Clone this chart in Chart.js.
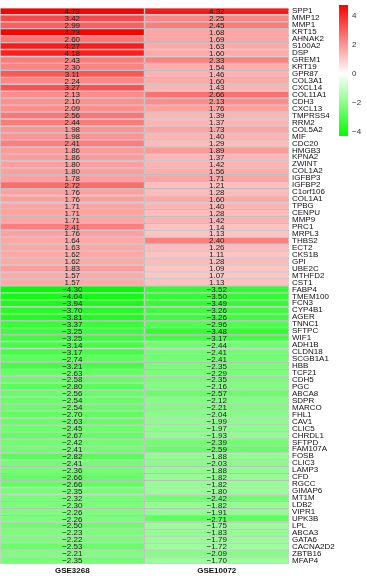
<!DOCTYPE html>
<html>
<head>
<meta charset="utf-8">
<script src="https://cdn.jsdelivr.net/npm/chart.js@4/dist/chart.umd.min.js"></script>
<style>
  html, body { margin: 0; padding: 0; background: #fff; }
  #wrap { width: 367px; height: 576px; }
</style>
</head>
<body>
<div id="wrap"><canvas id="heat"></canvas></div>
<script>
// gene names, top to bottom
const genes = [
  "SPP1","MMP12","MMP1","KRT15","AHNAK2","S100A2","DSP","GREM1","KRT19","GPR87",
  "COL3A1","CXCL14","COL11A1","CDH3","CXCL13","TMPRSS4","RRM2","COL5A2","MIF","CDC20",
  "HMGB3","KPNA2","ZWINT","COL1A2","IGFBP3","IGFBP2","C1orf106","COL1A1","TPBG","CENPU",
  "MMP9","PRC1","MRPL3","THBS2","ECT2","CKS1B","GPI","UBE2C","MTHFD2","CST1",
  "FABP4","TMEM100","FCN3","CYP4B1","AGER","TNNC1","SFTPC","WIF1","ADH1B","CLDN18",
  "SCGB1A1","HBB","TCF21","CDH5","PGC","ABCA8","SDPR","MARCO","FHL1","CAV1",
  "CLIC5","CHRDL1","SFTPD","FAM107A","FOSB","CLIC3","LAMP3","CFD","RGCC","GIMAP6",
  "MT1M","LDB2","VIPR1","UPK3B","LPL","ABCA3","GATA6","CACNA2D2","ZBTB16","MFAP4"
];
const datasetNames = ["GSE3268", "GSE10072"];
const gse3268 = [
  4.73,3.42,2.99,4.73,2.60,4.27,4.18,2.43,2.30,3.11,
  2.24,3.27,2.13,2.10,2.09,2.56,2.44,1.98,1.98,2.41,
  1.86,1.86,1.80,1.80,1.78,2.72,1.76,1.76,1.71,1.71,
  1.71,2.41,1.76,1.64,1.63,1.62,1.62,1.83,1.57,1.57,
  -4.30,-4.04,-3.94,-3.70,-3.81,-3.37,-3.25,-3.25,-3.14,-3.17,
  -2.74,-3.21,-2.63,-2.58,-2.80,-2.56,-2.54,-2.54,-2.70,-2.63,
  -2.45,-2.67,-2.42,-2.41,-2.82,-2.41,-2.36,-2.66,-2.66,-2.35,
  -2.32,-2.30,-2.26,-2.26,-2.50,-2.23,-2.22,-2.53,-2.21,-2.35
];
const gse10072 = [
  4.32,2.25,2.45,1.68,1.69,1.63,1.60,2.33,1.54,1.46,
  1.60,1.43,2.66,2.13,1.76,1.39,1.37,1.73,1.40,1.29,
  1.89,1.37,1.42,1.56,1.71,1.21,1.28,1.60,1.40,1.28,
  1.42,1.14,1.13,2.40,1.26,1.11,1.28,1.09,1.07,1.13,
  -3.52,-3.50,-3.49,-3.26,-3.26,-2.96,-3.48,-3.17,-2.44,-2.41,
  -2.41,-2.35,-2.29,-2.35,-2.16,-2.57,-2.12,-2.21,-2.04,-1.99,
  -1.97,-1.93,-2.39,-2.59,-1.88,-2.03,-1.88,-1.82,-1.82,-1.80,
  -2.42,-1.82,-1.91,-2.71,-1.75,-1.83,-1.79,-1.72,-2.09,-1.70
];
const legendTicks = [4, 2, 0, -2, -4];
const colorMax = 4.73;
const colorMin = -4.30;

// red - white - green
function heatColor(v) {
  let t;
  if (v >= 0) {
    t = Math.min(v / colorMax, 1);
    const c = Math.round(255 * (1 - t));
    return "rgb(255," + c + "," + c + ")";
  }
  t = Math.min(v / colorMin, 1);
  const c = Math.round(255 * (1 - t));
  return "rgb(" + c + ",255," + c + ")";
}

function fmt(v) {
  return v < 0 ? "\u2212" + Math.abs(v).toFixed(2) : v.toFixed(2);
}

const columns = [gse3268, gse10072];
const FONT = "'Liberation Sans', Arial, sans-serif";

// cell numbers, column names + color key
const cellText = {
  id: "cellText",
  afterDatasetsDraw(chart) {
    const ctx = chart.ctx;
    const x = chart.scales.x, y = chart.scales.y;
    ctx.save();
    ctx.font = "8px " + FONT;
    ctx.fillStyle = "#222";
    ctx.textAlign = "center";
    ctx.textBaseline = "middle";
    columns.forEach((col, ci) => {
      const cx = x.getPixelForValue(ci + 0.5);
      col.forEach((v, i) => {
        ctx.fillText(fmt(v), cx, y.getPixelForValue(i) + 0.5);
      });
    });
    ctx.font = "bold 8px " + FONT;
    ctx.fillStyle = "#111";
    datasetNames.forEach((n, ci) => {
      ctx.fillText(n, x.getPixelForValue(ci + 0.5), chart.chartArea.bottom + 7);
    });
    ctx.restore();
  },
  afterDraw(chart) {
    const ctx = chart.ctx;
    const barX = 339, barW = 9, top = 5, bottom = 136;
    const pxPer = (bottom - top) / (colorMax - colorMin);
    const g = ctx.createLinearGradient(0, top, 0, bottom);
    g.addColorStop(0, heatColor(colorMax));
    g.addColorStop(colorMax / (colorMax - colorMin), "#fff");
    g.addColorStop(1, heatColor(colorMin));
    ctx.save();
    ctx.fillStyle = g;
    ctx.fillRect(barX, top, barW, bottom - top);
    ctx.font = "8px " + FONT;
    ctx.fillStyle = "#333";
    ctx.textAlign = "left";
    ctx.textBaseline = "middle";
    legendTicks.forEach(t => {
      const ty = top + (colorMax - t) * pxPer;
      ctx.fillText(t < 0 ? "\u2212" + Math.abs(t) : String(t), barX + 13, ty);
    });
    ctx.restore();
  }
};

const ctx = document.getElementById("heat");
new Chart(ctx, {
  type: "bar",
  data: {
    labels: genes,
    datasets: columns.map((col, ci) => ({
      label: datasetNames[ci],
      data: col.map(() => [ci, ci + 1]),
      backgroundColor: col.map(heatColor),
      borderColor: "rgba(120,120,120,0.35)",
      borderWidth: 1,
      borderSkipped: false,
      barPercentage: 1,
      categoryPercentage: 1
    }))
  },
  options: {
    indexAxis: "y",
    responsive: true,
    maintainAspectRatio: false,
    animation: false,
    layout: { padding: { top: 1, left: 0, right: 0, bottom: 0 } },
    plugins: { legend: { display: false }, tooltip: { enabled: false } },
    scales: {
      x: {
        type: "linear",
        min: 0,
        max: 2,
        grid: { display: false, drawTicks: false },
        border: { display: false },
        ticks: { display: false },
        afterFit: s => { s.height = 12; }
      },
      y: {
        position: "right",
        stacked: true,
        grid: { display: false, drawTicks: false },
        border: { display: false },
        afterFit: s => { s.width = 78; },
        ticks: {
          autoSkip: false,
          padding: 3,
          color: "#111",
          font: { size: 8, family: FONT }
        }
      }
    }
  },
  plugins: [cellText]
});
</script>
</body>
</html>
